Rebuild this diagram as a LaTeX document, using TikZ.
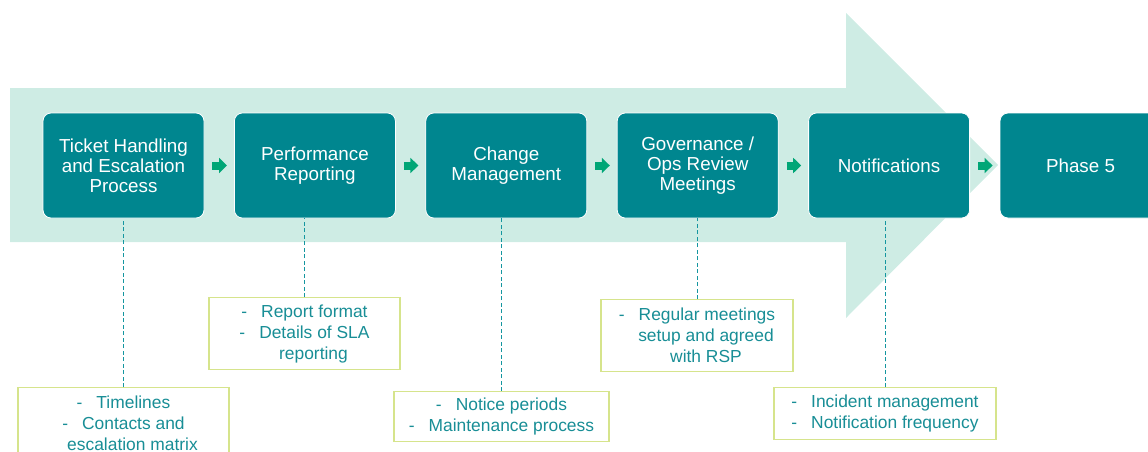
\documentclass[tikz,border=0pt]{standalone}
\usepackage{fontspec}
\setmainfont{Liberation Sans}
\usetikzlibrary{positioning, arrows.meta}
\definecolor{bandmint}{RGB}{206,236,228}
\definecolor{phaseteal}{RGB}{0,134,143}
\definecolor{stepgreen}{RGB}{0,166,118}
\definecolor{notelime}{RGB}{214,228,140}
\definecolor{noteteal}{RGB}{24,142,150}
\definecolor{linkteal}{RGB}{20,150,160}
\newcommand{\itm}{-\hspace{14pt}}
\newcommand{\cont}{\hspace*{18pt}}

\begin{document}
\begin{tikzpicture}[x=1pt, y=-1pt,
    phasebox/.style={rectangle, rounded corners=8pt, fill=phaseteal, draw=white, line width=0.8pt,
      text=white, align=center, minimum width=161pt, minimum height=105pt, inner sep=2pt,
      font=\fontsize{18.8}{20}\selectfont},
    notebox/.style={draw=notelime, line width=1.3pt, fill=white, text=noteteal, align=center,
      anchor=north, inner sep=2pt, font=\fontsize{17.4}{21}\selectfont},
    link/.style={linkteal, dash pattern=on 4pt off 2.5pt, line width=1pt}]
        \clip (0,0) rectangle (1148,452);
        % big background arrow
        \fill[bandmint] (10,88) -- (846,88) -- (846,13) -- (998,165) -- (846,318)
          -- (846,242) -- (10,242) -- cycle;

        % phases
        \node[phasebox] (p1) at (123.5,165.5) {Ticket Handling\\and Escalation\\Process};
        \node[phasebox, right=29.6pt of p1] (p2) {Performance\\Reporting};
        \node[phasebox, right=29.6pt of p2] (p3) {Change\\Management};
        \node[phasebox, right=29.6pt of p3] (p4) {Governance /\\Ops Review\\Meetings};
        \node[phasebox, right=29.6pt of p4] (p5) {Notifications};
        \node[phasebox, right=29.6pt of p5] (p6) {Phase 5};

        \foreach \a/\b in {p1/p2, p2/p3, p3/p4, p4/p5, p5/p6} {
          \draw[stepgreen, line width=8pt, -{Triangle[length=8pt, width=15pt]},
            shorten <=8pt, shorten >=7pt] (\a) -- (\b);
        }

        % notes
        \node[notebox, minimum width=211pt, minimum height=72pt] (n1) at (123.5,387)
          {\itm Timelines\\\itm Contacts and\\\cont escalation matrix};
        \node[notebox, minimum width=191pt, minimum height=72pt] (n2) at (304.5,297)
          {\itm Report format\\\itm Details of SLA\\\cont reporting};
        \node[notebox, minimum width=215pt, minimum height=50pt] (n3) at (501.5,391)
          {\itm Notice periods\\\itm Maintenance process};
        \node[notebox, minimum width=192pt, minimum height=72pt] (n4) at (697,299)
          {\itm Regular meetings\\\cont setup and agreed\\\cont with RSP};
        \node[notebox, minimum width=222pt, minimum height=52pt] (n5) at (885,387)
          {\itm Incident management\\\itm Notification frequency};

        \foreach \n/\p in {n1/p1, n2/p2, n3/p3, n4/p4, n5/p5} {
          \draw[link] (\n.north) -- (\n.north |- \p.south);
        }
      \end{tikzpicture}
\end{document}
